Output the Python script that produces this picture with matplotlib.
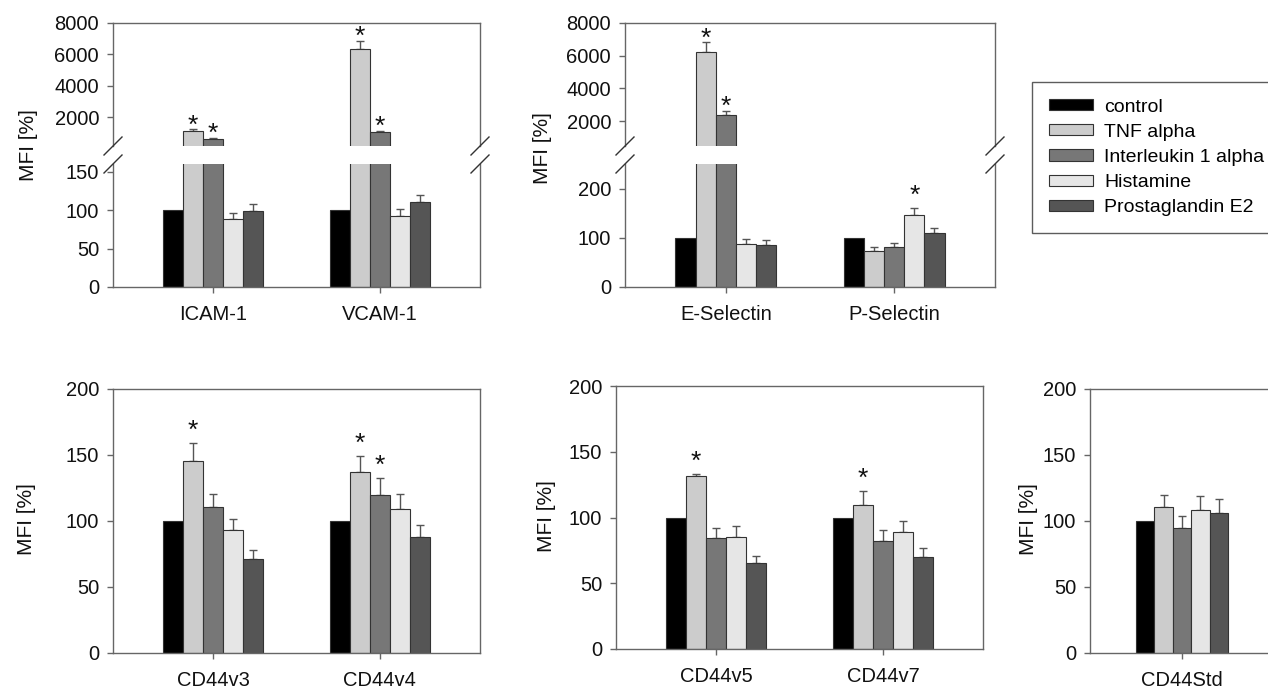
import matplotlib.pyplot as plt
from matplotlib.lines import Line2D
import numpy as np

plt.rcParams['font.family'] = ['Liberation Sans', 'DejaVu Sans']

treatments = ['control', 'TNF alpha', 'Interleukin 1 alpha', 'Histamine', 'Prostaglandin E2']
bar_colors = ['#000000', '#cccccc', '#777777', '#e6e6e6', '#555555']

# rows = treatments, columns = markers
adh_labels = ['ICAM-1', 'VCAM-1']
adh_means = [[100, 100], [1100, 6320], [580, 1020], [88, 92], [99, 110]]
adh_err = [[0, 0], [110, 550], [80, 110], [8, 10], [9, 10]]
adh_sig = [[0, 0], [1, 1], [1, 1], [0, 0], [0, 0]]

sel_labels = ['E-Selectin', 'P-Selectin']
sel_means = [[100, 100], [6200, 73], [2390, 82], [88, 147], [86, 110]]
sel_err = [[0, 0], [610, 8], [245, 8], [9, 14], [9, 10]]
sel_sig = [[0, 0], [1, 0], [1, 0], [0, 1], [0, 0]]

v34_labels = ['CD44v3', 'CD44v4']
v34_means = [[100, 100], [145.5, 137], [110.5, 120], [93, 109], [71, 88]]
v34_err = [[0, 0], [13.5, 12], [10, 12.5], [8.5, 11.5], [7, 9]]
v34_sig = [[0, 0], [1, 1], [0, 1], [0, 0], [0, 0]]

v57_labels = ['CD44v5', 'CD44v7']
v57_means = [[100, 100], [131.5, 109.5], [84.5, 82], [85.5, 89], [65.5, 70]]
v57_err = [[0, 0], [1.5, 10.5], [7.5, 8.5], [8, 8.5], [5.5, 7]]
v57_sig = [[0, 0], [1, 1], [0, 0], [0, 0], [0, 0]]

std_labels = ['CD44Std']
std_means = [[100], [110.5], [94.5], [108.5], [106]]
std_err = [[0], [9], [9], [10.5], [10.5]]
std_sig = [[0], [0], [0], [0], [0]]

W, H = 1268, 688
FS = 14.5
bar_w = 0.12
spine_col = '#666666'


def px_rect(x0, y0, x1, y1):
    # pixel box (y downwards) -> figure fraction rect
    return [x0 / W, 1 - y1 / H, (x1 - x0) / W, (y1 - y0) / H]


def style_axes(ax):
    for s in ax.spines.values():
        s.set_color(spine_col)
        s.set_linewidth(1)
    ax.tick_params(axis='both', colors=spine_col, labelcolor='#111111',
                   labelsize=FS, direction='out', length=4, width=1, pad=6)
    ax.tick_params(axis='x', pad=9)


def draw_bars(ax, labels, means, errs, sig, star_off):
    x = np.arange(len(labels))
    lo, hi = ax.get_ylim()
    for i in range(len(treatments)):
        pos = x + (i - 2) * bar_w
        m = np.array(means[i], dtype=float)
        e = np.array(errs[i], dtype=float)
        # bars that end below the visible range are left out (broken axis)
        h = np.where(m > lo, m, np.nan)
        ax.bar(pos, h, bar_w, color=bar_colors[i], edgecolor='#333333',
               linewidth=0.8, label=treatments[i], zorder=2)
        keep = (e > 0) & (m > lo)
        if keep.any():
            ax.errorbar(pos[keep], m[keep], yerr=[np.zeros(keep.sum()), e[keep]],
                        fmt='none', ecolor='#555555', elinewidth=1, capsize=3,
                        capthick=1, zorder=1)
        for p, mm, ee, s in zip(pos, m, e, sig[i]):
            if s and lo < mm + ee < hi:
                ax.annotate('*', (p, mm + ee), xytext=(0, star_off),
                            textcoords='offset points', ha='center', va='bottom',
                            fontsize=19, color='#111111')
    ax.set_xlim(-0.6, len(labels) - 0.4)
    ax.set_xticks(x)
    ax.set_xticklabels(labels)


def break_marks(fig, x, y):
    dx, dy = 9 / W, 9 / H
    fig.add_artist(Line2D([x - dx, x + dx], [y - dy, y + dy], transform=fig.transFigure,
                          color='#333333', lw=1))


def broken_panel(fig, x0, x1, labels, means, errs, sig, up_lim, low_lim, low_ticks):
    ax_up = fig.add_axes(px_rect(x0, 23, x1, 146))
    ax_lo = fig.add_axes(px_rect(x0, 164, x1, 287))
    ax_up.set_ylim(*up_lim)
    ax_lo.set_ylim(*low_lim)
    for ax in (ax_up, ax_lo):
        style_axes(ax)
    draw_bars(ax_up, labels, means, errs, sig, -6)
    draw_bars(ax_lo, labels, means, errs, sig, 0)
    ax_up.set_yticks([2000, 4000, 6000, 8000])
    ax_up.spines['bottom'].set_visible(False)
    ax_up.tick_params(axis='x', bottom=False, labelbottom=False)
    ax_lo.spines['top'].set_visible(False)
    ax_lo.set_yticks(low_ticks)
    for xp in (x0, x1):
        break_marks(fig, xp / W, 1 - 146 / H)
        break_marks(fig, xp / W, 1 - 164 / H)
    return ax_lo


def simple_panel(fig, box, labels, means, errs, sig):
    ax = fig.add_axes(px_rect(*box))
    ax.set_ylim(0, 200)
    style_axes(ax)
    draw_bars(ax, labels, means, errs, sig, 0)
    ax.set_yticks([0, 50, 100, 150, 200])
    return ax


def ylabel(fig, x, y):
    fig.text(x / W, 1 - y / H, 'MFI [%]', rotation=90, ha='center', va='center',
             fontsize=15, color='#111111')


fig = plt.figure(figsize=(W / 100, H / 100), dpi=100)

ax1 = broken_panel(fig, 113, 480, adh_labels, adh_means, adh_err, adh_sig,
                   (150, 8000), (0, 160), [0, 50, 100, 150])
broken_panel(fig, 625, 995, sel_labels, sel_means, sel_err, sel_sig,
             (470, 8000), (0, 250), [0, 100, 200])
simple_panel(fig, (113, 389, 480, 653), v34_labels, v34_means, v34_err, v34_sig)
simple_panel(fig, (616, 386, 983, 649), v57_labels, v57_means, v57_err, v57_sig)
ax5 = simple_panel(fig, (1090, 389, 1274, 653), std_labels, std_means, std_err, std_sig)
ax5.set_xlim(-0.6, 0.6)
ax5.spines['right'].set_visible(False)

ylabel(fig, 28, 145)
ylabel(fig, 543, 148)
ylabel(fig, 27, 519)
ylabel(fig, 546, 516)
ylabel(fig, 1028, 519)

handles, labs = ax1.get_legend_handles_labels()
leg = fig.legend(handles, labs, loc='upper left', bbox_to_anchor=(1032 / W, 1 - 82 / H),
                 borderaxespad=0, fancybox=False, frameon=True, fontsize=14,
                 handlelength=2.3, handleheight=0.5, handletextpad=0.55,
                 borderpad=0.85, labelspacing=0.42)
leg.get_frame().set_edgecolor('#333333')
leg.get_frame().set_linewidth(1)

fig.savefig('out.png', dpi=100)
plt.close()
